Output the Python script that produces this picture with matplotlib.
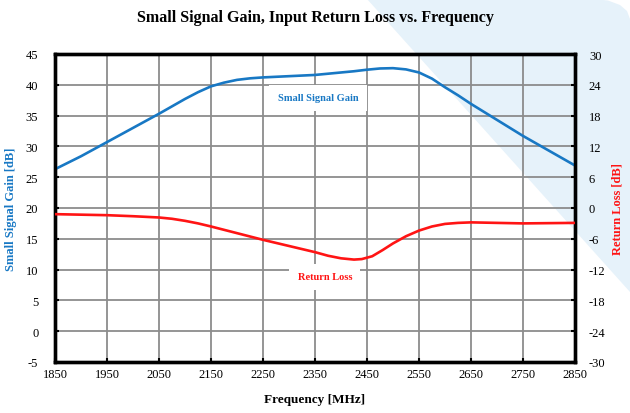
import numpy as np
import matplotlib
matplotlib.use("Agg")
import matplotlib.pyplot as plt
from matplotlib.patches import Polygon

plt.rcParams['font.family'] = ['Liberation Serif', 'DejaVu Serif']
plt.rcParams['axes.unicode_minus'] = False

# data
freq_gain = [1850, 1900, 1950, 2000, 2050, 2100, 2125, 2150, 2175, 2200, 2225, 2250,
             2300, 2350, 2400, 2425, 2450, 2475, 2500, 2525, 2550, 2575, 2600,
             2625, 2650, 2700, 2750, 2800, 2850]
gain = [26.3, 28.4, 30.7, 33.0, 35.3, 37.7, 38.8, 39.75, 40.35, 40.8, 41.05, 41.2,
        41.4, 41.6, 42.0, 42.2, 42.45, 42.65, 42.7, 42.5, 42.0, 41.0, 39.6,
        38.3, 36.9, 34.3, 31.7, 29.3, 26.9]

freq_rl = [1850, 1900, 1950, 2000, 2050, 2075, 2100, 2125, 2150, 2175, 2200, 2250,
           2300, 2350, 2375, 2400, 2425, 2440, 2460, 2480, 2500, 2525, 2550, 2575,
           2600, 2625, 2650, 2700, 2750, 2800, 2850]
ret_loss = [-1.2, -1.3, -1.4, -1.6, -1.85, -2.1, -2.5, -3.0, -3.6, -4.25, -4.9, -6.2,
            -7.4, -8.6, -9.3, -9.8, -10.05, -9.95, -9.4, -8.2, -6.9, -5.5, -4.4, -3.6,
            -3.1, -2.9, -2.8, -2.9, -3.0, -2.95, -2.9]

x_ticks = list(range(1850, 2851, 100))
gain_ticks = list(range(-5, 46, 5))
rl_ticks = list(range(-30, 31, 6))

blue = '#1878c4'
red = '#ff1414'

fig = plt.figure(figsize=(6.3, 4.14), dpi=100)
fig.patch.set_facecolor('white')

# light blue decoration in the upper right corner
W, H = 630.0, 414.0
pts = [(367, 0), (593, 0), (608, 1.5), (620, 6), (627, 12), (630, 20), (630, 293)]
bg = Polygon([(x / W, 1 - y / H) for x, y in pts], closed=True,
             transform=fig.transFigure, facecolor='#e6f2fa', edgecolor='none', zorder=-10)
fig.patches.append(bg)

ax = fig.add_axes([55 / W, 1 - 363 / H, 520 / W, 308 / H])
ax.set_facecolor('none')
ax2 = ax.twinx()
ax2.set_facecolor('none')

ax.plot(freq_gain, gain, color=blue, lw=1.9, solid_capstyle='butt', zorder=3)
ax2.plot(freq_rl, ret_loss, color=red, lw=1.9, solid_capstyle='butt', zorder=3)

ax.set_xlim(1850, 2850)
ax.set_ylim(-5, 45)
ax2.set_ylim(-30, 30)
ax.set_xticks(x_ticks)
ax.set_yticks(gain_ticks)
ax2.set_yticks(rl_ticks)

ax.grid(True, color='#8c8c8c', lw=1.3)
ax.set_axisbelow(True)

for a in (ax, ax2):
    for s in a.spines.values():
        s.set_linewidth(2.4)
        s.set_color('black')
ax.tick_params(axis='both', direction='in', length=3, width=1.5, labelsize=9, colors='black')
ax.tick_params(axis='y', pad=12)
ax.tick_params(axis='x', pad=4)
ax2.tick_params(axis='y', direction='in', length=3, width=1.5, labelsize=9, pad=10)

ax.set_xlabel('Frequency [MHz]', fontsize=9.5, fontweight='bold', labelpad=10)
ax.set_ylabel('Small Signal Gain [dB]', fontsize=9, fontweight='bold', color=blue, labelpad=6)
ax2.set_ylabel('Return Loss [dB]', fontsize=9, fontweight='bold', color=red, labelpad=4)

fig.suptitle('Small Signal Gain, Input Return Loss vs. Frequency', fontsize=11.5,
             fontweight='bold', x=0.5, y=1 - 18 / H, va='center')

ax.text(2356, 37.9, 'Small Signal Gain', color=blue, fontsize=7.5, fontweight='bold',
        ha='center', va='center', zorder=5,
        bbox=dict(facecolor='white', edgecolor='none', pad=6))
ax2.text(2369, -13.4, 'Return Loss', color=red, fontsize=7.5, fontweight='bold',
         ha='center', va='center', zorder=5,
         bbox=dict(facecolor='white', edgecolor='none', pad=6))

fig.savefig('out.png', dpi=100, facecolor=fig.get_facecolor())
